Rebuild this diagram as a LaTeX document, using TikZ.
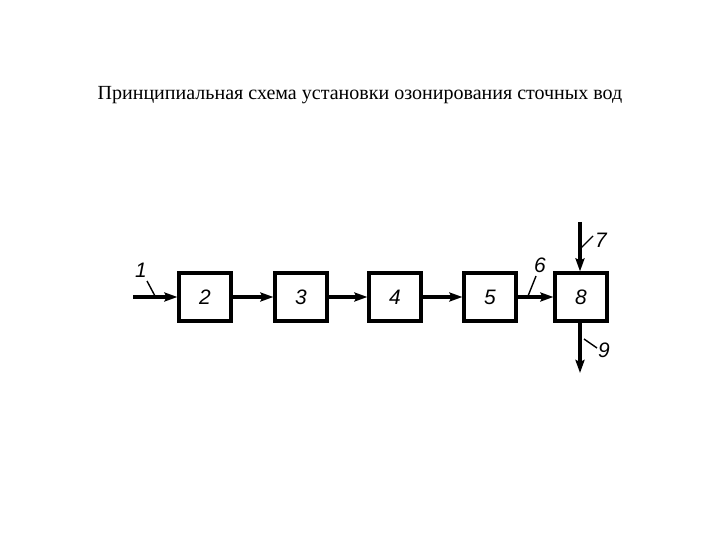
\documentclass[tikz,border=0pt]{standalone}
\usepackage{fontspec}
\setmainfont{Liberation Serif}
\newfontfamily\lblfont{Liberation Sans}
\usetikzlibrary{arrows.meta}
\begin{document}
\begin{tikzpicture}[x=1bp,y=-1bp,
  blk/.style={draw,line width=3.2bp,minimum width=52bp,minimum height=48bp,inner sep=0pt,font=\lblfont\itshape\fontsize{21}{21}\selectfont},
  flow/.style={line width=3.6bp,-{Stealth[length=13bp,width=9bp,inset=2bp]}},
  lbl/.style={font=\lblfont\itshape\fontsize{21}{21}\selectfont,inner sep=0pt},
  lead/.style={line width=1.4bp}]
\useasboundingbox (0,0) rectangle (720,540);
\node[font=\fontsize{20.1}{22}\selectfont] (title) at (360,95) {Принципиальная схема установки озонирования сточных вод};
\node[blk] (b2) at (205,297) {2};
\node[blk] (b3) at (301,297) {3};
\node[blk] (b4) at (395,297) {4};
\node[blk] (b5) at (490,297) {5};
\node[blk] (b8) at (581,297) {8};
\coordinate (in) at (133,297);
\coordinate (top7) at (580,222);
\coordinate (bot9) at (580,373);
\draw[flow] (in) -- (b2.west);
\draw[flow] (b2.east) -- (b3.west);
\draw[flow] (b3.east) -- (b4.west);
\draw[flow] (b4.east) -- (b5.west);
\draw[flow] (b5.east) -- (b8.west);
\draw[flow] (top7) -- (top7 |- b8.north);
\draw[flow] (bot9 |- b8.south) -- (bot9);
\node[lbl] (l1) at (141,270) {1};
\node[lbl] (l6) at (540,265) {6};
\node[lbl] (l7) at (601,240) {7};
\node[lbl] (l9) at (604,350) {9};
\coordinate (p1) at (155,296);
\coordinate (p6) at (528,296);
\coordinate (p7) at (581,248);
\coordinate (p9) at (584,339);
\draw[lead] (147,281) -- (p1);
\draw[lead] (536,276) -- (p6);
\draw[lead] (593,236) -- (p7);
\draw[lead] (597,348) -- (p9);
\end{tikzpicture}
\end{document}
